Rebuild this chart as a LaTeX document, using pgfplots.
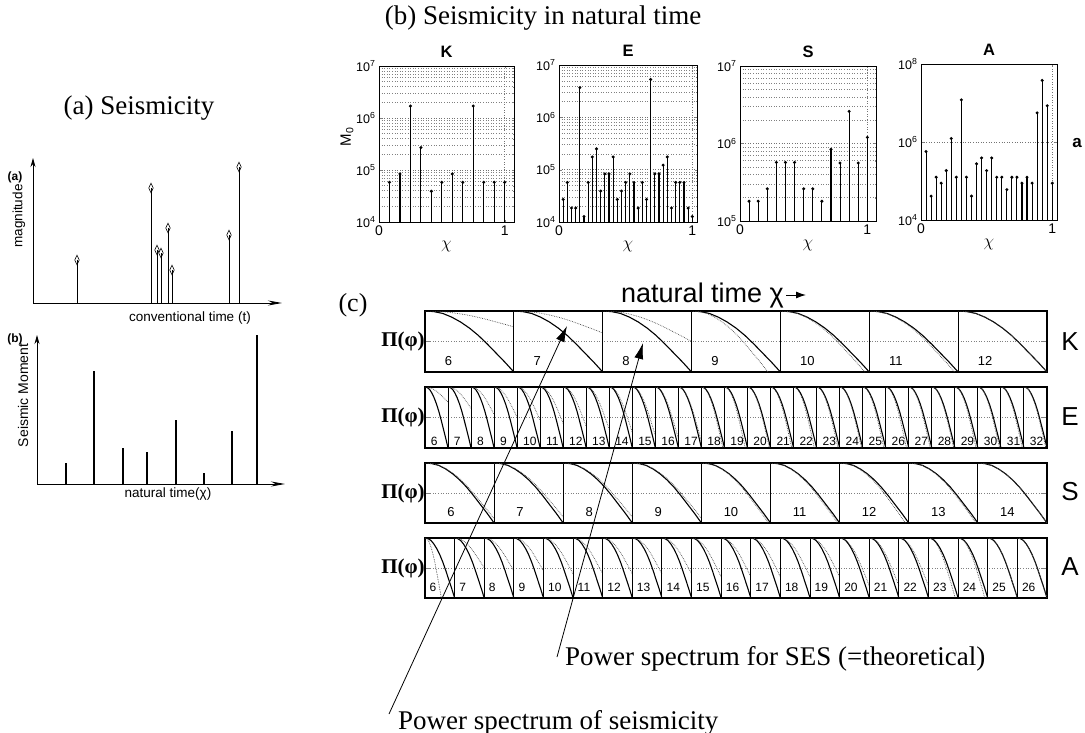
\documentclass[border=0pt]{standalone}
\usepackage{pgfplots}
\pgfplotsset{compat=1.18}
\usepackage{pgfplotstable}
\usepackage{fontspec}
\setmainfont{Liberation Serif}
\newfontfamily\hv{Liberation Sans}
\usetikzlibrary{arrows.meta}
\newcommand\fs[1]{\fontsize{#1}{#1}\selectfont}

% template of one panel curve of (c) (normalised)
\pgfplotstableread{
x y
0 1
0.1 0.99
0.2 0.96
0.3 0.9
0.4 0.82
0.5 0.72
0.6 0.6
0.7 0.46
0.8 0.31
0.9 0.16
1 0
}\tmpl

\pgfplotsset{
 lgax/.style={scale only axis, xmin=0, xtick={0,1}, xticklabels={0,1},
   tick align=inside, major tick length=2.5pt, minor tick length=1.2pt,
   axis line style={line width=0.6pt},
   yticklabel style={font=\hv\fs{12.5}},
   xticklabel style={font=\hv\fs{14}},
   grid style={dash pattern=on 0.6pt off 2pt, black!55, line width=0.5pt},
   minor grid style={dash pattern=on 0.6pt off 2pt, black!50, line width=0.5pt},
   xlabel={$\chi$}, xlabel style={font=\fs{16}, yshift=1pt},
   title style={font=\hv\bfseries\fs{16.5}, yshift=-1pt},
   clip=true},
 stemp/.style={ycomb, black, line width=1.1pt, mark=*, mark size=0.9pt},
 rowp/.style={scale only axis, xmin=0, ymin=0, ymax=1, width=622pt,
   axis line style={line width=1.3pt}, xtick=\empty,
   ytick={0.5}, yticklabels={}, ytick pos=both, tick align=inside, major tick length=5pt,
   ymajorgrids, major y grid style={dash pattern=on 0.6pt off 2pt, black!50, line width=0.5pt},
   no markers, clip=true},
}
\newcommand\numdx{0.2}
\newcommand\numdy{0.18}
\newcommand\numfont{\hv\fs{12}}
\newcommand\pan[3]{%
 \draw[line width=1pt] (axis cs:#1,0) -- (axis cs:#1,1);
 \addplot[black, line width=1.1pt] table[x expr=\thisrow{x}+#1, y=y]{\tmpl};
 \addplot[black!70, densely dotted, line width=0.7pt] table[x expr=\thisrow{x}*#2+#1, y expr=1-(1-\thisrow{y})*#3]{\tmpl};
 \node[font=\numfont, anchor=west, inner sep=0pt] at (axis cs:#1+\numdx,\numdy) {\the\numexpr#1+6\relax};
}

\begin{document}
\begin{tikzpicture}
\useasboundingbox (0pt,0pt) rectangle (1085pt,-733pt);

% ---------------- (a) ----------------
\node[font=\fs{27}] at (139pt,-108pt) {(a) Seismicity};
\begin{axis}[at={(33pt,-303pt)}, anchor=south west, scale only axis, width=249pt, height=145pt,
 axis lines=left, xmin=0, xmax=249, ymin=0, ymax=145, xtick=\empty, ytick=\empty,
 axis line style={line width=0.8pt},
 x axis line style={-{Stealth[length=14pt,width=5pt]}},
 y axis line style={-{Stealth[length=9pt,width=5pt]}}, clip=false]
\addplot[ycomb, black, line width=0.7pt, mark=diamond, mark size=3pt,
  mark options={solid, fill=white, line width=0.6pt, yscale=1.6}]
 coordinates {(44,43) (118,115) (124,53) (128,50) (135,75) (139,33) (196,68) (206,136)};
\end{axis}
\node[rotate=90, font=\hv\fs{13.5}] at (19pt,-216pt) {magnitude};
\node[font=\hv\bfseries\fs{12}] at (15pt,-177pt) {(a)};
\node[font=\hv\fs{13.5}] at (190pt,-318pt) {conventional time (t)};

\begin{axis}[at={(37pt,-484pt)}, anchor=south west, scale only axis, width=248pt, height=149pt,
 axis lines=left, xmin=0, xmax=248, ymin=0, ymax=149, xtick=\empty, ytick=\empty,
 axis line style={line width=0.8pt},
 x axis line style={-{Stealth[length=14pt,width=5pt]}},
 y axis line style={-{Stealth[length=9pt,width=5pt]}}, clip=false]
\addplot[ycomb, black, line width=1.2pt]
 coordinates {(29,21) (57,113) (86,36) (110,32) (139,64) (167,11) (195,53) (220,149)};
\end{axis}
\node[rotate=90, anchor=east, font=\hv\fs{14}] at (23pt,-340pt) {Seismic Moment};
\node[font=\hv\bfseries\fs{12}] at (15pt,-339pt) {(b)};
\node[font=\hv\fs{13.5}] at (168pt,-494pt) {natural time(χ)};

% ---------------- (b) ----------------
\node[font=\fs{27}] at (543pt,-18pt) {(b) Seismicity in natural time};

\begin{semilogyaxis}[lgax, at={(379pt,-222pt)}, anchor=south west, width=135pt, height=156pt,
  xmax=1.074, ymin=1e4, ymax=1e7, title={K},
  ytick={1e4,1e5,1e6,1e7},
  yticklabels={10\textsuperscript{4},10\textsuperscript{5},10\textsuperscript{6},10\textsuperscript{7}},
  minor ytick={2e4,3e4,4e4,5e4,6e4,7e4,8e4,9e4,2e5,3e5,4e5,5e5,6e5,7e5,8e5,9e5,2e6,3e6,4e6,5e6,6e6,7e6,8e6,9e6},
  ymajorgrids, yminorgrids, xmajorgrids]
\addplot[stemp] coordinates {(0.0833,5.8e4) (0.1667,8.4e4) (0.25,1.7e6) (0.3333,2.7e5) (0.4167,3.9e4) (0.5,5.8e4) (0.5833,8.4e4) (0.6667,5.8e4) (0.75,1.7e6) (0.8333,5.8e4) (0.9167,5.8e4) (1,5.8e4)};
\end{semilogyaxis}
\node[rotate=90, font=\hv\fs{15}] at (347pt,-137pt) {M\textsubscript{0}};

\begin{semilogyaxis}[lgax, at={(559pt,-222pt)}, anchor=south west, width=138pt, height=157pt,
  xmax=1.035, ymin=1e4, ymax=1e7, title={E},
  ytick={1e4,1e5,1e6,1e7},
  yticklabels={10\textsuperscript{4},10\textsuperscript{5},10\textsuperscript{6},10\textsuperscript{7}},
  minor ytick={2e4,3e4,4e4,5e4,6e4,7e4,8e4,9e4,2e5,3e5,4e5,5e5,6e5,7e5,8e5,9e5,2e6,3e6,4e6,5e6,6e6,7e6,8e6,9e6},
  ymajorgrids, yminorgrids, xmajorgrids]
\addplot[stemp] coordinates {(0.03125,2.7e4) (0.0625,5.7e4) (0.09375,1.85e4) (0.125,1.85e4) (0.15625,3.7e6) (0.1875,1.27e4) (0.21875,5.7e4) (0.25,1.75e5) (0.28125,2.5e5) (0.3125,3.9e4) (0.34375,8.3e4) (0.375,8.3e4) (0.40625,1.75e5) (0.4375,2.7e4) (0.46875,3.9e4) (0.5,5.7e4) (0.53125,8.3e4) (0.5625,5.7e4) (0.59375,1.85e4) (0.625,5.7e4) (0.65625,2.7e4) (0.6875,5.3e6) (0.71875,8.3e4) (0.75,8.3e4) (0.78125,1.22e5) (0.8125,1.75e5) (0.84375,1.85e4) (0.875,5.7e4) (0.90625,5.7e4) (0.9375,5.7e4) (0.96875,1.85e4) (1,1.27e4)};
\end{semilogyaxis}

\begin{semilogyaxis}[lgax, at={(740pt,-221pt)}, anchor=south west, width=136pt, height=155pt,
  xmax=1.068, ymin=1e5, ymax=1e7, title={S},
  ytick={1e5,1e6,1e7},
  yticklabels={10\textsuperscript{5},10\textsuperscript{6},10\textsuperscript{7}},
  minor ytick={2e5,3e5,4e5,5e5,6e5,7e5,8e5,9e5,2e6,3e6,4e6,5e6,6e6,7e6,8e6,9e6},
  ymajorgrids, yminorgrids, xmajorgrids]
\addplot[stemp] coordinates {(0.0714,1.8e5) (0.1429,1.8e5) (0.2143,2.6e5) (0.2857,5.7e5) (0.3571,5.7e5) (0.4286,5.7e5) (0.5,2.6e5) (0.5714,2.6e5) (0.6429,1.8e5) (0.7143,8.4e5) (0.7857,5.6e5) (0.8571,2.6e6) (0.9286,5.6e5) (1,1.2e6)};
\end{semilogyaxis}

\begin{semilogyaxis}[lgax, at={(921pt,-220pt)}, anchor=south west, width=136pt, height=156pt,
  xmax=1.036, ymin=1e4, ymax=1e8, title={A},
  ytick={1e4,1e6,1e8},
  yticklabels={10\textsuperscript{4},10\textsuperscript{6},10\textsuperscript{8}},
  ymajorgrids, xmajorgrids]
\addplot[stemp] coordinates {(0.0385,5.7e5) (0.0769,4.1e4) (0.1154,1.25e5) (0.1538,8.8e4) (0.1923,1.85e5) (0.2308,1.23e6) (0.2692,1.25e5) (0.3077,1.2e7) (0.3462,1.25e5) (0.3846,4.1e4) (0.4231,2.75e5) (0.4615,3.9e5) (0.5,1.85e5) (0.5385,3.9e5) (0.5769,1.25e5) (0.6154,1.25e5) (0.6538,6e4) (0.6923,1.25e5) (0.7308,1.25e5) (0.7692,8.8e4) (0.8077,1.25e5) (0.8462,8.8e4) (0.8846,5.6e6) (0.9231,3.8e7) (0.9615,8.5e6) (1,8.8e4)};
\end{semilogyaxis}
\node[font=\hv\bfseries\fs{17}] at (1077pt,-143pt) {a};

% ---------------- (c) ----------------
\node[font=\fs{26}] at (353pt,-305pt) {(c)};
\node[font=\hv\fs{27}, anchor=base west, inner sep=0pt] at (621pt,-302pt) {natural time χ};
\draw[-{Latex[length=10pt,width=7pt]}, line width=1pt] (786pt,-295pt) -- (806pt,-295pt);

% K row
\renewcommand\numdx{0.22}\renewcommand\numdy{0.18}\renewcommand\numfont{\hv\fs{13}}
\begin{axis}[rowp, at={(425pt,-372pt)}, anchor=south west, height=61pt, xmax=7]
\pan{0}{1}{0.26}\pan{1}{1}{0.36}\pan{2}{1}{0.5}\pan{3}{0.86}{1}
\pan{4}{0.95}{1}\pan{5}{0.96}{1}\pan{6}{1}{1}
\end{axis}
% E row
\renewcommand\numdx{0.25}\renewcommand\numdy{0.11}\renewcommand\numfont{\hv\fs{12}}
\begin{axis}[rowp, at={(425pt,-448pt)}, anchor=south west, height=61pt, xmax=27]
\pan{0}{1}{0.25}\pan{1}{1}{0.35}\pan{2}{1}{0.45}\pan{3}{1}{0.5}\pan{4}{1}{0.55}
\pan{5}{1}{0.6}\pan{6}{1}{0.65}\pan{7}{1}{0.7}\pan{8}{1}{0.75}\pan{9}{1}{0.8}
\pan{10}{1}{0.85}\pan{11}{1}{0.9}\pan{12}{0.93}{1}\pan{13}{0.9}{1}\pan{14}{0.95}{1}
\pan{15}{0.92}{1}\pan{16}{0.9}{1}\pan{17}{0.93}{1}\pan{18}{0.95}{1}\pan{19}{0.92}{1}
\pan{20}{0.9}{1}\pan{21}{0.93}{1}\pan{22}{0.95}{1}\pan{23}{0.92}{1}\pan{24}{0.94}{1}
\pan{25}{0.93}{1}\pan{26}{0.95}{1}
\end{axis}
% S row
\renewcommand\numdx{0.32}\renewcommand\numdy{0.18}\renewcommand\numfont{\hv\fs{13}}
\begin{axis}[rowp, at={(425pt,-523pt)}, anchor=south west, height=60pt, xmax=9]
\pan{0}{1}{0.93}\pan{1}{1}{0.9}\pan{2}{1}{0.9}\pan{3}{1}{0.92}\pan{4}{0.97}{1}
\pan{5}{0.97}{1}\pan{6}{0.95}{1}\pan{7}{0.97}{1}\pan{8}{1}{1}
\end{axis}
% A row
\renewcommand\numdx{0.15}\renewcommand\numdy{0.18}\renewcommand\numfont{\hv\fs{12}}
\begin{axis}[rowp, at={(425pt,-598pt)}, anchor=south west, height=60pt, xmax=21]
\pan{0}{0.55}{1}\pan{1}{1}{0.5}\pan{2}{1}{0.55}\pan{3}{1}{0.55}\pan{4}{1}{0.6}
\pan{5}{1}{0.6}\pan{6}{1}{0.6}\pan{7}{1}{0.6}\pan{8}{1}{0.6}\pan{9}{1}{0.65}
\pan{10}{1}{0.65}\pan{11}{1}{0.65}\pan{12}{1}{0.65}\pan{13}{1}{0.65}\pan{14}{1}{0.8}
\pan{15}{1}{0.8}\pan{16}{1}{0.8}\pan{17}{0.9}{1}\pan{18}{0.9}{1}\pan{19}{1}{1}\pan{20}{1}{1}
\end{axis}

\node[font=\bfseries\fs{21}] at (403pt,-341pt) {Π(φ)};
\node[font=\bfseries\fs{21}] at (403pt,-417pt) {Π(φ)};
\node[font=\bfseries\fs{21}] at (403pt,-493pt) {Π(φ)};
\node[font=\bfseries\fs{21}] at (403pt,-568pt) {Π(φ)};
\node[font=\hv\fs{26}] at (1070pt,-342pt) {K};
\node[font=\hv\fs{26}] at (1070pt,-417pt) {E};
\node[font=\hv\fs{26}] at (1070pt,-492pt) {S};
\node[font=\hv\fs{26}] at (1070pt,-567pt) {A};

% call-out arrows and their labels
\draw[line width=0.8pt, -{Latex[length=16pt,width=9pt]}] (389pt,-714pt) -- (567pt,-326pt);
\draw[line width=0.8pt, -{Latex[length=16pt,width=9pt]}] (557pt,-657pt) -- (643pt,-343pt);
\node[font=\fs{27}, anchor=base west, inner sep=0pt] at (565pt,-665pt) {Power spectrum for SES (=theoretical)};
\node[font=\fs{27}, anchor=base west, inner sep=0pt] at (398pt,-729pt) {Power spectrum of seismicity};
\end{tikzpicture}
\end{document}
